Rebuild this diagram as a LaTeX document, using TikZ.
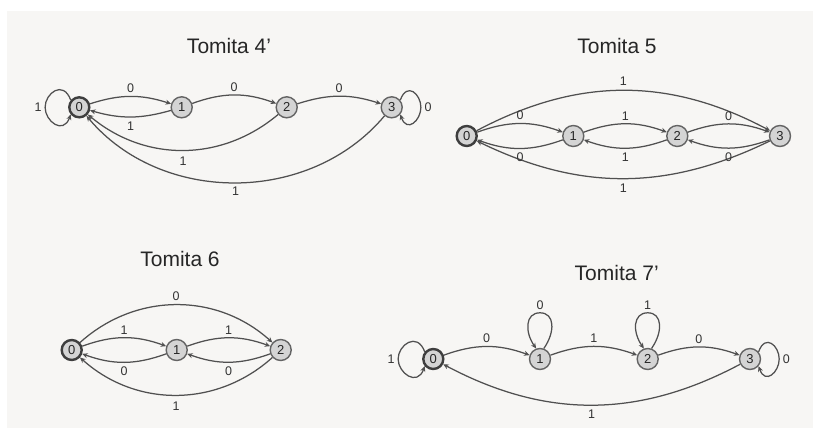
\documentclass[tikz,border=0pt]{standalone}
\usepackage{fontspec}
\setmainfont{Liberation Sans}
\usetikzlibrary{arrows.meta,calc}
\definecolor{paper}{HTML}{F7F6F4}
\definecolor{statefill}{HTML}{D4D4D4}
\definecolor{stateline}{HTML}{646464}
\definecolor{startline}{HTML}{3E3E3E}
\definecolor{edgecol}{HTML}{505050}
\begin{document}
\begin{tikzpicture}[x=1pt,y=1pt,
  state/.style={circle, draw=stateline, fill=statefill, line width=1.4pt,
    minimum size=21pt, inner sep=0pt, text=black!85,
    font=\fontsize{13}{13}\selectfont},
  startstate/.style={state, draw=startline, line width=2.4pt, minimum size=20pt},
  tr/.style={draw=edgecol, line width=1.25pt, -{Stealth[length=5.5pt,width=5pt]}},
  lab/.style={font=\fontsize{12.5}{12.5}\selectfont, text=black!80, inner sep=1pt},
  title/.style={font=\fontsize{21}{21}\selectfont, text=black!85}]

% paper
\fill[white] (0,0) rectangle (819,-428);
\fill[paper] (7,-11) rectangle (813,-428);
\useasboundingbox (0,0) rectangle (819,-428);

% ---------------- Tomita 4'
\node[title] (t4) at (229,-46) {Tomita 4'};
\node[startstate] (a0) at (79.3,-107.3) {0};
\node[state] (a1) at (181.7,-107.3) {1};
\node[state] (a2) at (286.7,-107.3) {2};
\node[state] (a3) at (391.7,-107.3) {3};
\draw[tr] (a0) to[bend left=18] node[lab,above=2pt]{0} (a1);
\draw[tr] (a1) to[bend left=16] node[lab,below=3pt]{1} (a0);
\draw[tr] (a1) to[bend left=20] node[lab,above=2pt]{0} (a2);
\draw[tr] (a2) to[bend left=18] node[lab,above=2pt]{0} (a3);
\draw[tr] (a2) to[bend left=40] node[lab,below=5pt]{1} (a0);
\draw[tr] (a3) to[bend left=50] node[lab,below=3pt]{1} (a0);
\draw[tr] (a0.140) .. controls +(110:22) and +(90:14) .. ($(a0.west)+(-23,0)$) node[lab,left=2pt]{1}
  .. controls +(-90:14) and +(250:22) .. (a0.220);
\draw[tr] (a3.40) .. controls +(70:20) and +(90:13) .. ($(a3.east)+(18,0)$) node[lab,right=2pt]{0}
  .. controls +(-90:13) and +(290:20) .. (a3.320);

% ---------------- Tomita 5
\node[title] (t5) at (617,-46) {Tomita 5};
\node[startstate] (b0) at (466.7,-136) {0};
\node[state] (b1) at (573.3,-136) {1};
\node[state] (b2) at (677.3,-136) {2};
\node[state] (b3) at (780,-136) {3};
\draw[tr] (b0) to[bend left=28] node[lab,above=3pt]{1} (b3);
\draw[tr] (b3) to[bend left=26] node[lab,below=4pt]{1} (b0);
\draw[tr] (b0) to[bend left=20] node[lab,above=2pt]{0} (b1);
\draw[tr] (b1) to[bend left=20] node[lab,below=3pt]{0} (b0);
\draw[tr] (b1) to[bend left=20] node[lab,above=2pt]{1} (b2);
\draw[tr] (b2) to[bend left=20] node[lab,below=3pt]{1} (b1);
\draw[tr] (b2) to[bend left=20] node[lab,above=2pt]{0} (b3);
\draw[tr] (b3) to[bend left=20] node[lab,below=3pt]{0} (b2);

% ---------------- Tomita 6
\node[title] (t6) at (180,-259.3) {Tomita 6};
\node[startstate] (c0) at (71.7,-350) {0};
\node[state] (c1) at (176.7,-350) {1};
\node[state] (c2) at (280.7,-350) {2};
\draw[tr] (c0) to[bend left=42] node[lab,above=3pt]{0} (c2);
\draw[tr] (c2) to[bend left=42] node[lab,below=5pt]{1} (c0);
\draw[tr] (c0) to[bend left=20] node[lab,above=2pt]{1} (c1);
\draw[tr] (c1) to[bend left=20] node[lab,below=3pt]{0} (c0);
\draw[tr] (c1) to[bend left=20] node[lab,above=2pt]{1} (c2);
\draw[tr] (c2) to[bend left=20] node[lab,below=3pt]{0} (c1);

% ---------------- Tomita 7'
\node[title] (t7) at (616.7,-273) {Tomita 7'};
\node[startstate] (d0) at (433.3,-359) {0};
\node[state] (d1) at (540,-359) {1};
\node[state] (d2) at (647.7,-359) {2};
\node[state] (d3) at (750,-359) {3};
\draw[tr] (d0) to[bend left=20] node[lab,above=2pt]{0} (d1);
\draw[tr] (d1) to[bend left=20] node[lab,above=2pt]{1} (d2);
\draw[tr] (d2) to[bend left=20] node[lab,above=2pt]{0} (d3);
\draw[tr] (d3) to[bend left=28] node[lab,below=3pt]{1} (d0);
\draw[tr] (d0.140) .. controls +(110:22) and +(90:14) .. ($(d0.west)+(-24,0)$) node[lab,left=2pt]{1}
  .. controls +(-90:14) and +(250:22) .. (d0.220);
\draw[tr] (d3.40) .. controls +(70:20) and +(90:13) .. ($(d3.east)+(18,0)$) node[lab,right=2pt]{0}
  .. controls +(-90:13) and +(290:20) .. (d3.320);
\draw[tr] (d1.70) .. controls +(55:20) and +(0:15) .. ($(d1.north)+(0,35)$) node[lab,above=2pt]{0}
  .. controls +(180:15) and +(125:20) .. (d1.110);
\draw[tr] (d2.70) .. controls +(55:20) and +(0:15) .. ($(d2.north)+(0,35)$) node[lab,above=2pt]{1}
  .. controls +(180:15) and +(125:20) .. (d2.110);
\end{tikzpicture}
\end{document}
